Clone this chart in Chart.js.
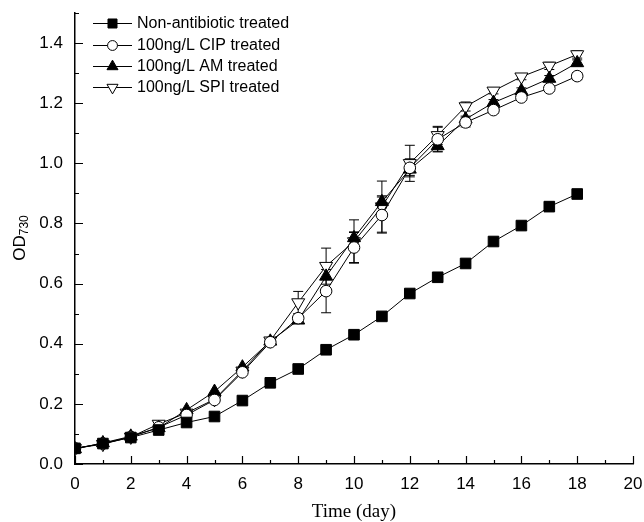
<!DOCTYPE html>
<html>
<head>
<meta charset="utf-8">
<script src="https://cdn.jsdelivr.net/npm/chart.js@4.4.1/dist/chart.umd.min.js"></script>
<style>
    html, body { margin: 0; padding: 0; background: #fff; }
    #wrap { width: 644px; height: 522px; }
</style>
</head>
<body>
<div id="wrap"><canvas id="growthChart" width="644" height="522"></canvas></div>
<script>
// Data
const days = [0, 1, 2, 3, 4, 5, 6, 7, 8, 9, 10, 11, 12, 13, 14, 15, 16, 17, 18];
const seriesNames = ['Non-antibiotic treated', '100ng/L CIP treated', '100ng/L AM treated', '100ng/L SPI treated'];

const nonAntibiotic = [0.052, 0.068, 0.088, 0.113, 0.138, 0.158, 0.211, 0.270, 0.316, 0.380, 0.430, 0.491, 0.567, 0.621, 0.667, 0.740, 0.793, 0.856, 0.898];
const cip = [0.052, 0.068, 0.090, 0.122, 0.163, 0.213, 0.305, 0.405, 0.485, 0.575, 0.720, 0.828, 0.985, 1.080, 1.136, 1.177, 1.219, 1.249, 1.290];
const am = [0.050, 0.070, 0.092, 0.120, 0.180, 0.241, 0.322, 0.408, 0.478, 0.624, 0.752, 0.872, 0.980, 1.058, 1.147, 1.202, 1.241, 1.282, 1.334];
const spi = [0.052, 0.066, 0.090, 0.133, 0.170, 0.215, 0.310, 0.410, 0.537, 0.658, 0.740, 0.856, 1.000, 1.093, 1.189, 1.241, 1.288, 1.324, 1.362];

// error bar half-widths (0 = not visible)
const nonAntibioticErr = [0, 0, 0, 0, 0, 0, 0, 0, 0, 0, 0, 0, 0, 0, 0, 0, 0, 0.015, 0];
const cipErr = [0, 0, 0, 0, 0, 0, 0, 0, 0, 0.072, 0.05, 0.06, 0.03, 0.04, 0.015, 0.01, 0.01, 0.01, 0.012];
const amErr = [0, 0, 0, 0, 0, 0, 0, 0, 0, 0, 0.02, 0.02, 0.02, 0.02, 0.01, 0.01, 0.01, 0.01, 0.01];
const spiErr = [0, 0, 0, 0, 0, 0, 0, 0, 0.037, 0.06, 0.072, 0.085, 0.06, 0.03, 0.015, 0.01, 0.01, 0.012, 0.012];

const xTicks = [0, 2, 4, 6, 8, 10, 12, 14, 16, 18, 20];
const yTicks = [0, 0.2, 0.4, 0.6, 0.8, 1.0, 1.2, 1.4];

const sansFont = '"Liberation Sans", Arial, sans-serif';
const serifFont = '"Liberation Serif", "Times New Roman", serif';

function toPoints(values) {
    return days.map((d, i) => ({ x: d, y: values[i] }));
}

function makeDataset(label, values, errors, style) {
    return {
        label,
        data: toPoints(values),
        errors,
        borderColor: '#000',
        borderWidth: 1,
        pointBorderWidth: 1,
        pointBorderColor: '#000',
        pointBackgroundColor: style.fill,
        pointStyle: style.shape,
        pointRotation: style.rotation || 0,
        pointRadius: style.radius,
        pointHoverRadius: style.radius,
        tension: 0,
        fill: false
    };
}

// Inward ticks on both axes, minor ticks between majors
const inwardTicks = {
    id: 'inwardTicks',
    afterDraw(chart) {
        const ctx = chart.ctx;
        const x = chart.scales.x;
        const y = chart.scales.y;
        const area = chart.chartArea;
        ctx.save();
        ctx.strokeStyle = '#000';
        ctx.lineWidth = 1.2;
        ctx.beginPath();
        for (let v = 0; v <= 20; v += 1) {
            const px = Math.round(x.getPixelForValue(v)) + 0.5;
            const len = v % 2 === 0 ? 8 : 4;
            ctx.moveTo(px, area.bottom);
            ctx.lineTo(px, area.bottom - len);
        }
        for (let k = 0; k <= 15; k++) {
            const py = Math.round(y.getPixelForValue(k / 10)) + 0.5;
            const len = k % 2 === 0 ? 8 : 4;
            ctx.moveTo(area.left, py);
            ctx.lineTo(area.left + len, py);
        }
        ctx.stroke();
        ctx.restore();
    }
};

// Vertical error bars with caps
const errorBars = {
    id: 'errorBars',
    beforeDatasetsDraw(chart) {
        const ctx = chart.ctx;
        const ys = chart.scales.y;
        ctx.save();
        ctx.strokeStyle = '#000';
        ctx.lineWidth = 1;
        chart.data.datasets.forEach((ds, di) => {
            const meta = chart.getDatasetMeta(di);
            meta.data.forEach((pt, i) => {
                const e = ds.errors[i];
                if (!e) return;
                const v = ds.data[i].y;
                const top = ys.getPixelForValue(v + e);
                const bot = ys.getPixelForValue(v - e);
                ctx.beginPath();
                ctx.moveTo(pt.x, top);
                ctx.lineTo(pt.x, bot);
                ctx.moveTo(pt.x - 5, top);
                ctx.lineTo(pt.x + 5, top);
                ctx.moveTo(pt.x - 5, bot);
                ctx.lineTo(pt.x + 5, bot);
                ctx.stroke();
            });
        });
        ctx.restore();
    }
};

// Legend inside the plot, top left, plus the OD730 axis title
const insideLegend = {
    id: 'insideLegend',
    afterDraw(chart) {
        const ctx = chart.ctx;
        ctx.save();
        const x0 = 93, x1 = 132, rowY = [23, 45, 66, 87];
        chart.data.datasets.forEach((ds, i) => {
            const y = rowY[i];
            ctx.strokeStyle = '#000';
            ctx.lineWidth = 1;
            ctx.beginPath();
            ctx.moveTo(x0, y + 0.5);
            ctx.lineTo(x1, y + 0.5);
            ctx.stroke();
            ctx.fillStyle = ds.pointBackgroundColor;
            Chart.helpers.drawPoint(ctx, {
                pointStyle: ds.pointStyle,
                rotation: ds.pointRotation,
                radius: ds.pointRadius * 0.85,
                borderWidth: 1
            }, (x0 + x1) / 2, y + 0.5);
            ctx.fillStyle = '#000';
            ctx.font = '16px ' + sansFont;
            ctx.textAlign = 'left';
            ctx.textBaseline = 'middle';
            ctx.fillText(ds.label, 137, y + 1);
        });

        // y axis title with subscript
        ctx.translate(20, 238);
        ctx.rotate(-Math.PI / 2);
        ctx.fillStyle = '#000';
        ctx.textBaseline = 'middle';
        ctx.textAlign = 'left';
        ctx.font = '17px ' + sansFont;
        const w1 = ctx.measureText('OD').width;
        ctx.font = '12px ' + sansFont;
        const w2 = ctx.measureText('730').width;
        const start = -(w1 + w2) / 2;
        ctx.font = '17px ' + sansFont;
        ctx.fillText('OD', start, 0);
        ctx.font = '12px ' + sansFont;
        ctx.fillText('730', start + w1, 5);
        ctx.restore();
    }
};

function createGrowthChart(ctxId) {
    const datasets = [
        makeDataset(seriesNames[0], nonAntibiotic, nonAntibioticErr, { shape: 'rect', fill: '#000', radius: 7.5 }),
        makeDataset(seriesNames[1], cip, cipErr, { shape: 'circle', fill: '#fff', radius: 5.8 }),
        makeDataset(seriesNames[2], am, amErr, { shape: 'triangle', fill: '#000', radius: 7.5 }),
        makeDataset(seriesNames[3], spi, spiErr, { shape: 'triangle', fill: '#fff', radius: 7.5, rotation: 180 })
    ];

    const ctx = document.getElementById(ctxId).getContext('2d');
    return new Chart(ctx, {
        type: 'line',
        data: { datasets },
        options: {
            responsive: false,
            animation: false,
            layout: { padding: { top: 13, right: 11, left: 0, bottom: 0 } },
            plugins: {
                legend: { display: false },
                tooltip: { enabled: false }
            },
            scales: {
                x: {
                    type: 'linear',
                    min: 0,
                    max: 20,
                    afterBuildTicks: (scale) => { scale.ticks = xTicks.map(v => ({ value: v })); },
                    afterFit: (scale) => { scale.height = 58; scale.paddingRight = 0; scale.paddingLeft = 0; },
                    grid: { display: false, drawTicks: false },
                    border: { display: true, color: '#000', width: 1.5 },
                    ticks: {
                        color: '#000',
                        padding: 10,
                        maxRotation: 0,
                        font: { family: sansFont, size: 17 }
                    },
                    title: {
                        display: true,
                        text: 'Time (day)',
                        color: '#000',
                        padding: { top: 0, bottom: 0 },
                        font: { family: serifFont, size: 19, lineHeight: 1 }
                    }
                },
                y: {
                    min: 0,
                    max: 1.5,
                    afterBuildTicks: (scale) => { scale.ticks = yTicks.map(v => ({ value: v })); },
                    afterFit: (scale) => { scale.width = 75; scale.paddingTop = 0; scale.paddingBottom = 0; },
                    grid: { display: false, drawTicks: false },
                    border: { display: true, color: '#000', width: 1.5 },
                    ticks: {
                        color: '#000',
                        padding: 12,
                        font: { family: sansFont, size: 17 },
                        callback: (v) => Number(v).toFixed(1)
                    }
                }
            }
        },
        plugins: [errorBars, inwardTicks, insideLegend]
    });
}

createGrowthChart('growthChart');
</script>
</body>
</html>
